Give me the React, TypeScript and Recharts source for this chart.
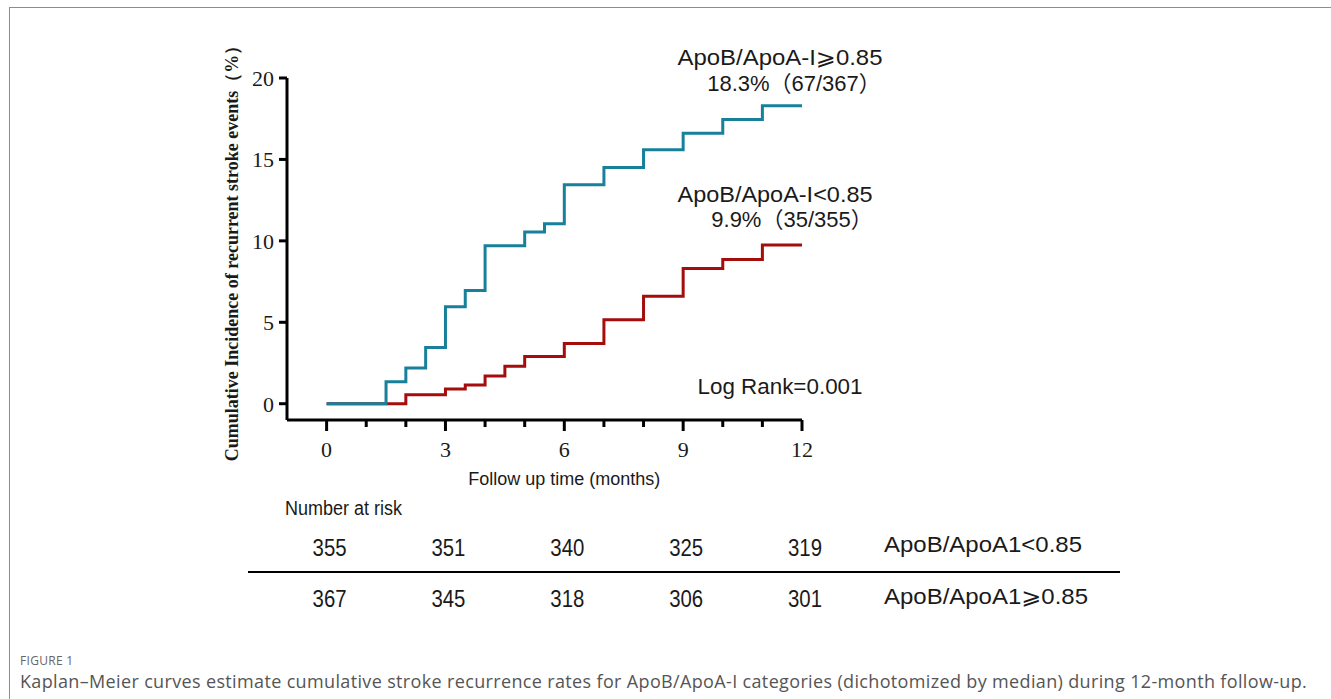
import React from "react";
import { LineChart, Line, XAxis, YAxis, Label } from "recharts";

// cumulative incidence (%)
const highTimes = [0, 1.5, 2, 2.5, 3, 3.5, 4, 5, 5.5, 6, 7, 8, 9, 10, 11, 12];
const highRates = [0, 1.35, 2.2, 3.45, 5.95, 6.95, 9.7, 10.55, 11.05, 13.45, 14.5, 15.6, 16.6, 17.45, 18.3, 18.3];
const lowTimes = [0, 2, 3, 3.5, 4, 4.5, 5, 6, 7, 8, 9, 10, 11, 12];
const lowRates = [0, 0.55, 0.9, 1.15, 1.7, 2.3, 2.9, 3.7, 5.15, 6.6, 8.3, 8.85, 9.75, 9.75];

const monthTicks = [0, 1, 2, 3, 4, 5, 6, 7, 8, 9, 10, 11, 12];
const majorTicks = [0, 3, 6, 9, 12];
const yTicks = [0, 5, 10, 15, 20];

// number at risk table
const riskTimes = [0, 3, 6, 9, 12];
const riskLow = [355, 351, 340, 325, 319];
const riskHigh = [367, 345, 318, 306, 301];

const BLUE = "#18809b";
const RED = "#a50d0d";
const SERIF = "'Liberation Serif', 'Times New Roman', serif";
const SANS = "'Liberation Sans', Arial, 'DejaVu Sans', 'Noto Sans CJK SC', sans-serif";

const highData = highTimes.map((t, i) => ({ t, rate: highRates[i] }));
const lowData = lowTimes.map((t, i) => ({ t, rate: lowRates[i] }));

function MonthTick({ x, y, payload }: any) {
  const v = payload.value;
  const major = majorTicks.includes(v);
  const r = riskTimes.indexOf(v);
  const numStyle = {
    fontFamily: SANS,
    fontSize: 24,
    fill: "#1a1a1a",
    textAnchor: "middle" as const,
    dominantBaseline: "central" as const,
  };
  return (
    <g>
      <line x1={x} x2={x} y1={y} y2={y + (major ? 11 : 7)} stroke="#000" strokeWidth={3} />
      {major && (
        <text x={x} y={y + 37} textAnchor="middle" fontSize={22} fontFamily={SERIF} fill="#1a1a1a">
          {v}
        </text>
      )}
      {v === 6 && (
        <text x={x} y={y + 65} textAnchor="middle" fontSize={18} fontFamily={SANS} fill="#1a1a1a">
          Follow up time (months)
        </text>
      )}
      {r >= 0 && (
        <>
          <text x={x + 3} y={y + 127} {...numStyle} textLength={34} lengthAdjust="spacingAndGlyphs">
            {riskLow[r]}
          </text>
          <text x={x + 3} y={y + 178} {...numStyle} textLength={34} lengthAdjust="spacingAndGlyphs">
            {riskHigh[r]}
          </text>
        </>
      )}
    </g>
  );
}

function YTitle({ viewBox }: any) {
  const cy = viewBox.y + viewBox.height / 2;
  return (
    <text
      x={232}
      y={cy}
      transform={`rotate(-90 232 ${cy})`}
      textAnchor="middle"
      dominantBaseline="central"
      fontFamily={SERIF}
      fontWeight="bold"
      fontSize={18}
      fill="#1a1a1a"
    >
      Cumulative Incidence of recurrent stroke events（%）
    </text>
  );
}

export default function App() {
  return (
    <div
      style={{
        position: "absolute",
        left: 0,
        top: 0,
        width: 1331,
        height: 699,
        background: "#fff",
        overflow: "hidden",
      }}
    >
      <div
        style={{
          position: "absolute",
          left: 9,
          top: 7,
          right: 0,
          bottom: 0,
          borderTop: "1.5px solid #8c8c8c",
          borderLeft: "1.5px solid #8c8c8c",
        }}
      />
      <div style={{ position: "absolute", left: 0, top: 0 }}>
        <LineChart width={1331} height={640} margin={{ top: 78, right: 529, bottom: 20, left: 0 }}>
          <XAxis
            xAxisId="t"
            type="number"
            dataKey="t"
            domain={[-1, 12]}
            ticks={monthTicks}
            interval={0}
            height={200}
            tickSize={0}
            tickMargin={0}
            tickLine={false}
            axisLine={{ stroke: "#000", strokeWidth: 3 }}
            tick={<MonthTick />}
          />
          <YAxis
            type="number"
            domain={[-1, 20]}
            ticks={yTicks}
            interval={0}
            width={287}
            tickSize={8}
            tickMargin={5}
            tickLine={{ stroke: "#000", strokeWidth: 3 }}
            axisLine={{ stroke: "#000", strokeWidth: 3 }}
            tick={{ fill: "#1a1a1a", fontSize: 22, fontFamily: SERIF }}
            label={<Label content={<YTitle />} />}
          />
          <Line
            xAxisId="t"
            type="stepAfter"
            data={lowData}
            dataKey="rate"
            stroke={RED}
            strokeWidth={3}
            dot={false}
            isAnimationActive={false}
          />
          <Line
            xAxisId="t"
            type="stepAfter"
            data={highData}
            dataKey="rate"
            stroke={BLUE}
            strokeWidth={3}
            dot={false}
            isAnimationActive={false}
          />
        </LineChart>
      </div>
      <svg
        width={1331}
        height={699}
        style={{ position: "absolute", left: 0, top: 0, pointerEvents: "none" }}
      >
        <g fontFamily={SANS} fontSize={22} fill="#1a1a1a" textAnchor="middle" dominantBaseline="central">
          <text x={780} y={57} textLength={205} lengthAdjust="spacingAndGlyphs">
            ApoB/ApoA-I⩾0.85
          </text>
          <text x={794} y={83}>18.3%（67/367）</text>
          <text x={775} y={194} textLength={195} lengthAdjust="spacingAndGlyphs">
            ApoB/ApoA-I&lt;0.85
          </text>
          <text x={792} y={219}>9.9%（35/355）</text>
          <text x={780} y={386} textLength={165} lengthAdjust="spacingAndGlyphs">
            Log Rank=0.001
          </text>
        </g>
        <text
          x={285}
          y={508}
          fontFamily={SANS}
          fontSize={20}
          fill="#1a1a1a"
          dominantBaseline="central"
          textLength={117}
          lengthAdjust="spacingAndGlyphs"
        >
          Number at risk
        </text>
        <line x1={248} x2={1120} y1={572} y2={572} stroke="#000" strokeWidth={2} />
        <g fontFamily={SANS} fontSize={22} fill="#1a1a1a" dominantBaseline="central">
          <text x={884} y={544} textLength={198} lengthAdjust="spacingAndGlyphs">
            ApoB/ApoA1&lt;0.85
          </text>
          <text x={884} y={596} textLength={204} lengthAdjust="spacingAndGlyphs">
            ApoB/ApoA1⩾0.85
          </text>
        </g>
      </svg>
      <div
        style={{
          position: "absolute",
          left: 20,
          top: 652,
          fontFamily: "'Open Sans', 'Noto Sans', sans-serif",
          fontSize: 12,
          color: "#666",
          letterSpacing: 0.3,
        }}
      >
        FIGURE 1
      </div>
      <div
        style={{
          position: "absolute",
          left: 20,
          top: 669,
          fontFamily: "'Open Sans', 'Noto Sans', sans-serif",
          fontSize: 18,
          letterSpacing: 0.35,
          color: "#555",
          whiteSpace: "nowrap",
        }}
      >
        Kaplan–Meier curves estimate cumulative stroke recurrence rates for ApoB/ApoA-I categories (dichotomized by median) during 12-month follow-up.
      </div>
    </div>
  );
}
